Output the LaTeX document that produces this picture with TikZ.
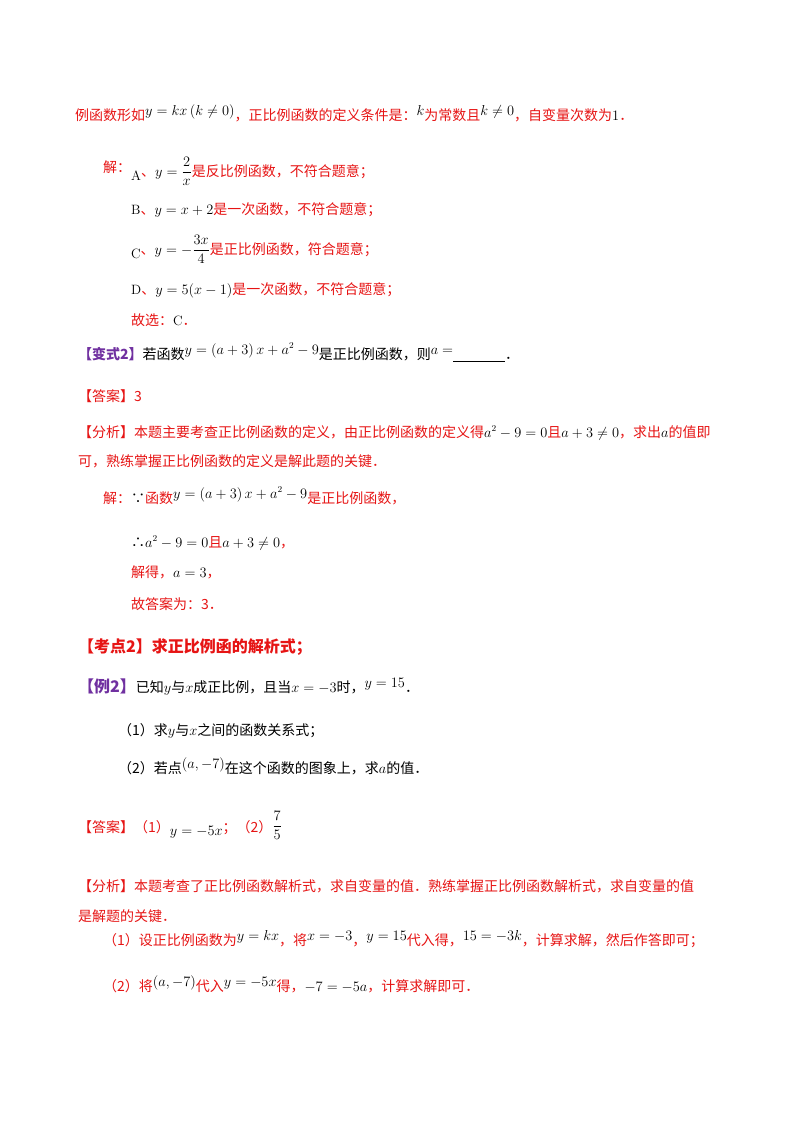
\documentclass[tikz,border=0pt]{standalone}
\usepackage{fontspec}
\usepackage{amsmath}
\newfontfamily\cjk{Noto Sans CJK SC}
\definecolor{rd}{RGB}{230,20,20}
\definecolor{pp}{RGB}{112,48,160}
\newcommand{\M}[1]{\textcolor{black}{\normalfont\fontsize{13.5}{15}\selectfont$#1$}}
\newcommand{\R}[1]{\raisebox{5pt}{\M{#1}}}
\begin{document}
\begin{tikzpicture}[x=1pt,y=-1pt,
 t/.style={anchor=base west,inner sep=0pt,font=\cjk\fontsize{14}{16}\selectfont},
 big/.style={anchor=base west,inner sep=0pt,font=\cjk\bfseries\fontsize{16}{18}\selectfont}]
\useasboundingbox (0,0) rectangle (800,1132);
\node[t,rd] (l1) at (75,120) {例函数形如\R{y=kx\left(k\neq0\right)}，正比例函数的定义条件是：\R{k}为常数且\R{k\neq 0}，自变量次数为\M{1}．};
\node[t,rd] (l2) at (103,172) {解：};
\node[t,rd] (l2b) at (131,180) {\M{\mathrm{A}}\raisebox{4pt}{、\M{y=\dfrac{2}{x}}是反比例函数，不符合题意；}};
\node[t,rd] (l3) at (131,214) {\M{\mathrm{B}}、\M{y=x+2}是一次函数，不符合题意；};
\node[t,rd] (l4) at (131,258) {\M{\mathrm{C}}\raisebox{4pt}{、\M{y=-\dfrac{3x}{4}}是正比例函数，符合题意；}};
\node[t,rd] (l5) at (131,294) {\M{\mathrm{D}}、\M{y=5(x-1)}是一次函数，不符合题意；};
\node[t,rd] (l6) at (131,325) {故选：\M{\mathrm{C}}．};
\node[t] (l7) at (78,359) {\textcolor{pp}{\bfseries【变式2】}若函数\R{y=\left(a+3\right)x+a^2-9}是正比例函数，则\R{a=}\underline{\hspace{52pt}}．};
\node[t,rd] (l8) at (78,401) {【答案】3};
\node[t,rd] (l9) at (78,437) {【分析】本题主要考查正比例函数的定义，由正比例函数的定义得\M{a^2-9=0}且\M{a+3\neq0}，求出\M{a}的值即};
\node[t,rd] (l10) at (78,466) {可，熟练掌握正比例函数的定义是解此题的关键．};
\node[t,rd] (l11) at (103,503) {解：\textcolor{black}{∵}函数\R{y=\left(a+3\right)x+a^2-9}是正比例函数，};
\node[t,rd] (l12) at (131,547) {\textcolor{black}{∴}\M{a^2-9=0}且\M{a+3\neq0}，};
\node[t,rd] (l13) at (131,577) {解得，\M{a=3}，};
\node[t,rd] (l14) at (131,609) {故答案为：3．};
\node[big,rd] (l15) at (78,652) {【考点2】求正比例函的解析式；};
\node[t] (l16) at (78,692) {\textcolor{pp}{\bfseries\fontsize{16}{18}\selectfont【例2】}已知\M{y}与\M{x}成正比例，且当\M{x=-3}时，\R{y=15}．};
\node[t] (l17) at (118,735) {（1）求\M{y}与\M{x}之间的函数关系式；};
\node[t] (l18) at (118,773) {（2）若点\R{(a,-7)}在这个函数的图象上，求\M{a}的值．};
\node[t,rd] (l19) at (78,832) {【答案】（1）\raisebox{-3pt}{\M{y=-5x}}；（2）\raisebox{2pt}{\M{\dfrac{7}{5}}}};
\node[t,rd] (l20) at (78,891) {【分析】本题考查了正比例函数解析式，求自变量的值．熟练掌握正比例函数解析式，求自变量的值};
\node[t,rd] (l21) at (78,921) {是解题的关键．};
\node[t,rd] (l22) at (103,945) {（1）设正比例函数为\R{y=kx}，将\R{x=-3}，\R{y=15}代入得，\R{15=-3k}，计算求解，然后作答即可；};
\node[t,rd] (l23) at (103,991) {（2）将\R{(a,-7)}代入\R{y=-5x}得，\M{-7=-5a}，计算求解即可．};
\end{tikzpicture}
\end{document}
